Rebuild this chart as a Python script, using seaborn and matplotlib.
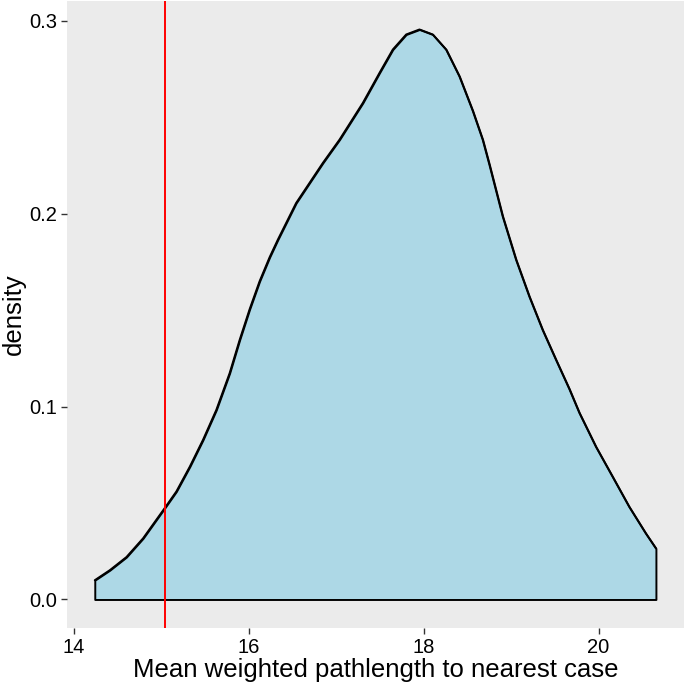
import matplotlib
matplotlib.use("Agg")
import matplotlib.pyplot as plt
import seaborn as sns
import pandas as pd

# Density curve values
x_vals = [14.237, 14.409, 14.599, 14.789, 15.04, 15.17, 15.324, 15.474, 15.627, 15.779,
          15.894, 16.008, 16.122, 16.237, 16.331, 16.54, 16.846, 17.037, 17.303, 17.494,
          17.646, 17.799, 17.951, 18.103, 18.256, 18.408, 18.56, 18.674, 18.751, 18.903,
          19.056, 19.208, 19.36, 19.513, 19.665, 19.78, 19.97, 20.16, 20.35, 20.54, 20.656]
density = [0.0100, 0.0152, 0.0220, 0.0317, 0.0476, 0.0560, 0.0689, 0.0827, 0.0983, 0.1173,
           0.1346, 0.1505, 0.1650, 0.1775, 0.1866, 0.2056, 0.2264, 0.2385, 0.2575, 0.2731,
           0.2852, 0.2930, 0.2956, 0.2930, 0.2852, 0.2713, 0.2535, 0.2385, 0.2255, 0.1987,
           0.1762, 0.1571, 0.1398, 0.1243, 0.1092, 0.0968, 0.0792, 0.0637, 0.0481, 0.0343, 0.0265]
observed_value = 15.04
x_ticks = [14, 16, 18, 20]
y_ticks = [0.0, 0.1, 0.2, 0.3]
y_tick_labels = ["0.0", "0.1", "0.2", "0.3"]
x_label = "Mean weighted pathlength to nearest case"
y_label = "density"

df = pd.DataFrame({"x": x_vals, "density": density})

sns.set_style("darkgrid", {"axes.facecolor": "#EBEBEB", "grid.color": "#EBEBEB"})
plt.rcParams["font.family"] = ["Liberation Sans", "DejaVu Sans"]

fig = plt.figure(figsize=(6.85, 6.91), dpi=100)
ax = fig.add_axes([0.0974, 0.0912, 0.9011, 0.9074])
ax.set_facecolor("#EBEBEB")
ax.grid(False)

ax.fill_between(df["x"], 0, df["density"], facecolor="#ADD8E6", edgecolor="black",
                linewidth=1.4, zorder=2)
sns.lineplot(data=df, x="x", y="density", color="black", linewidth=1.4, ax=ax, zorder=3)
ax.axvline(observed_value, color="red", linewidth=1.4, zorder=4)

xmin, xmax = min(x_vals), max(x_vals)
xr = xmax - xmin
ax.set_xlim(xmin - 0.05 * xr, xmax + 0.05 * xr)
ymax = max(density)
ax.set_ylim(-0.05 * ymax, ymax * 1.05)

ax.set_xticks(x_ticks)
ax.set_xticklabels([str(t) for t in x_ticks])
ax.set_yticks(y_ticks)
ax.set_yticklabels(y_tick_labels)
ax.tick_params(axis="both", which="major", bottom=True, left=True, length=4, width=1.0,
               color="#333333", labelsize=14.5, labelcolor="black", pad=3, direction="out")
for s in ax.spines.values():
    s.set_visible(False)

ax.set_xlabel(x_label, fontsize=18.5, color="black", labelpad=1)
ax.set_ylabel(y_label, fontsize=18.5, color="black", labelpad=2)

fig.savefig("out.png", dpi=100, facecolor="white")
